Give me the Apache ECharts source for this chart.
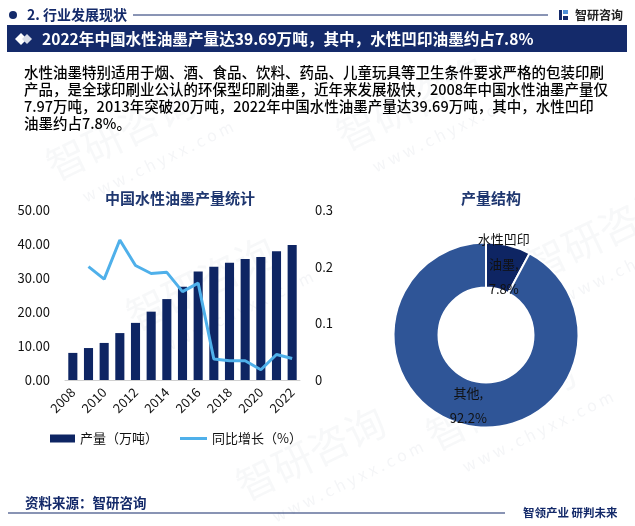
<!DOCTYPE html>
<html><head><meta charset="utf-8">
<script src="https://cdn.jsdelivr.net/npm/echarts@6/dist/echarts.min.js"></script>
<style>html,body{margin:0;padding:0;background:#fff}#c{width:635px;height:526px}</style>
</head><body><div id="c"></div>
<script>
var years = ['2008','2009','2010','2011','2012','2013','2014','2015','2016','2017','2018','2019','2020','2021','2022'];
var output = [7.97, 9.4, 10.9, 13.8, 16.8, 20.1, 23.8, 27.4, 31.9, 33.3, 34.5, 35.6, 36.2, 37.9, 39.69];
var growth = [null, 0.200, 0.178, 0.247, 0.202, 0.188, 0.190, 0.156, 0.171, 0.037, 0.034, 0.034, 0.018, 0.045, 0.038];
var leftTicks = {min: 0, max: 50, interval: 10};
var rightTicks = {min: 0, max: 0.3, interval: 0.1};
var pieNames = ['水性凹印油墨', '其他'];
var pieValues = [7.8, 92.2];
var paragraph = [
  '水性油墨特别适用于烟、酒、食品、饮料、药品、儿童玩具等卫生条件要求严格的包装印刷',
  '产品，是全球印刷业公认的环保型印刷油墨，近年来发展极快，2008年中国水性油墨产量仅',
  '7.97万吨，2013年突破20万吨，2022年中国水性油墨产量达39.69万吨，其中，水性凹印',
  '油墨约占7.8%。'
];

var FONT = '"Noto Sans CJK SC","Noto Sans",sans-serif';
var NAVY = '#142a6a';
var chart = echarts.init(document.getElementById('c'));

var graphics = [];
// watermarks
var wm = [[40,150],[330,120],[520,250],[120,300],[420,420],[230,470]];
wm.forEach(function(p){
  graphics.push({type:'text', x:p[0], y:p[1], rotation:0.45, silent:true, z:-1,
    style:{text:'智研咨询', font:'40px ' + FONT, fill:'rgba(150,160,180,0.08)'}});
  graphics.push({type:'text', x:p[0]+40, y:p[1]+40, rotation:0.45, silent:true, z:-1,
    style:{text:'w w w . c h y x x . c o m', font:'16px ' + FONT, fill:'rgba(150,160,180,0.10)'}});
});
// header
graphics.push({type:'circle', shape:{cx:13, cy:15, r:4}, style:{fill:NAVY}});
graphics.push({type:'text', x:27, y:15, style:{text:'2. 行业发展现状', font:'bold 14px ' + FONT, fill:NAVY, textVerticalAlign:'middle'}});
graphics.push({type:'line', shape:{x1:133, y1:15, x2:548, y2:15}, style:{stroke:NAVY, lineWidth:1}});
graphics.push({type:'rect', shape:{x:559, y:10, width:3, height:10}, style:{fill:NAVY}});
graphics.push({type:'rect', shape:{x:563, y:10, width:5, height:4}, style:{fill:'#4f8fd6'}});
graphics.push({type:'rect', shape:{x:563, y:16, width:5, height:4}, style:{fill:NAVY}});
graphics.push({type:'text', x:575, y:15, style:{text:'智研咨询', font:'bold 12px ' + FONT, fill:'#222', textVerticalAlign:'middle'}});
// banner
graphics.push({type:'rect', shape:{x:7, y:25, width:620, height:27}, style:{fill:NAVY}});
graphics.push({type:'polygon', shape:{points:[[15,39],[21,33],[27,39],[21,45]]}, style:{fill:'#fff'}});
graphics.push({type:'polygon', shape:{points:[[22,39],[27,34],[32,39],[27,44]]}, style:{fill:'#d9dde8'}});
graphics.push({type:'text', x:42, y:39, style:{text:'2022年中国水性油墨产量达39.69万吨，其中，水性凹印油墨约占7.8%', font:'bold 15.6px ' + FONT, fill:'#fff', textVerticalAlign:'middle'}});
// paragraph
paragraph.forEach(function(t, i){
  graphics.push({type:'text', x:24, y:72 + i*17.3, style:{text:t, font:'500 14.5px ' + FONT, fill:'#000', textVerticalAlign:'middle'}});
});
// footer
graphics.push({type:'text', x:25, y:503, style:{text:'资料来源：智研咨询', font:'bold 13.5px ' + FONT, fill:NAVY, textVerticalAlign:'middle'}});
graphics.push({type:'line', shape:{x1:8, y1:513, x2:505, y2:513}, style:{stroke:NAVY, lineWidth:1.2}});
graphics.push({type:'text', x:523, y:513, style:{text:'智领产业 研判未来', font:'bold 11.5px ' + FONT, fill:NAVY, textVerticalAlign:'middle'}});

var option = {
  animation: false,
  textStyle: {fontFamily: FONT},
  title: [
    {text:'中国水性油墨产量统计', left:175, top:186, textAlign:'center', textStyle:{fontSize:15, fontWeight:'bold', color:'#1f3770', fontFamily:FONT}},
    {text:'产量结构', left:486, top:186, textAlign:'center', textStyle:{fontSize:15, fontWeight:'bold', color:'#1f3770', fontFamily:FONT}}
  ],
  legend: [
    {left: 50, top: 432, padding: 0, itemWidth: 25, itemHeight: 8,
     textStyle: {fontSize: 13, color: '#111', fontFamily: FONT},
     data: [{name:'产量（万吨）', icon:'rect'}]},
    {left: 180, top: 432, padding: 0, itemWidth: 27, itemHeight: 3,
     textStyle: {fontSize: 13, color: '#111', fontFamily: FONT},
     data: [{name:'同比增长（%）', icon:'rect'}]}
  ],
  grid: {left: 65, right: 335, top: 210, bottom: 146},
  xAxis: {
    type: 'category', data: years,
    axisLine: {lineStyle: {color: '#d0d0d0'}},
    axisTick: {show: false},
    axisLabel: {interval: 1, rotate: 45, fontSize: 13, color: '#111', margin: 10}
  },
  yAxis: [
    {type:'value', min:leftTicks.min, max:leftTicks.max, interval:leftTicks.interval,
     splitLine:{show:false}, axisLine:{show:false}, axisTick:{show:false},
     axisLabel:{fontSize:13, color:'#111', margin:15, formatter:function(v){return v.toFixed(2);}}},
    {type:'value', min:rightTicks.min, max:rightTicks.max, interval:rightTicks.interval,
     splitLine:{show:false}, axisLine:{show:false}, axisTick:{show:false},
     axisLabel:{fontSize:13, color:'#111', margin:15, formatter:function(v){return v === 0 ? '0' : String(Math.round(v*10)/10);}}}
  ],
  series: [
    {name:'产量（万吨）', type:'bar', data:output, barWidth:'58%', itemStyle:{color:'#0e2563'}},
    {name:'同比增长（%）', type:'line', yAxisIndex:1, data:growth, symbol:'none', connectNulls:false,
     lineStyle:{color:'#4fb0ea', width:3}, itemStyle:{color:'#4fb0ea'}},
    {type:'pie', center:[486,335], radius:[47.5,92.5], startAngle:90, clockwise:true,
     itemStyle:{borderColor:'#fff', borderWidth:2},
     label:{show:true, position:'inside', color:'#111', fontSize:13, lineHeight:25, fontFamily:FONT,
       formatter:function(p){var n=p.name; if(n.length>4){n=n.slice(0,4)+'\n'+n.slice(4);} return n+',\n'+p.value+'%';}},
     labelLine:{show:false},
     data: pieNames.map(function(n,i){return {name:n, value:pieValues[i], itemStyle:{color: i===0 ? '#0e2563' : '#2f5597'}};})
    }
  ],
  graphic: graphics
};
chart.setOption(option);
</script></body></html>
